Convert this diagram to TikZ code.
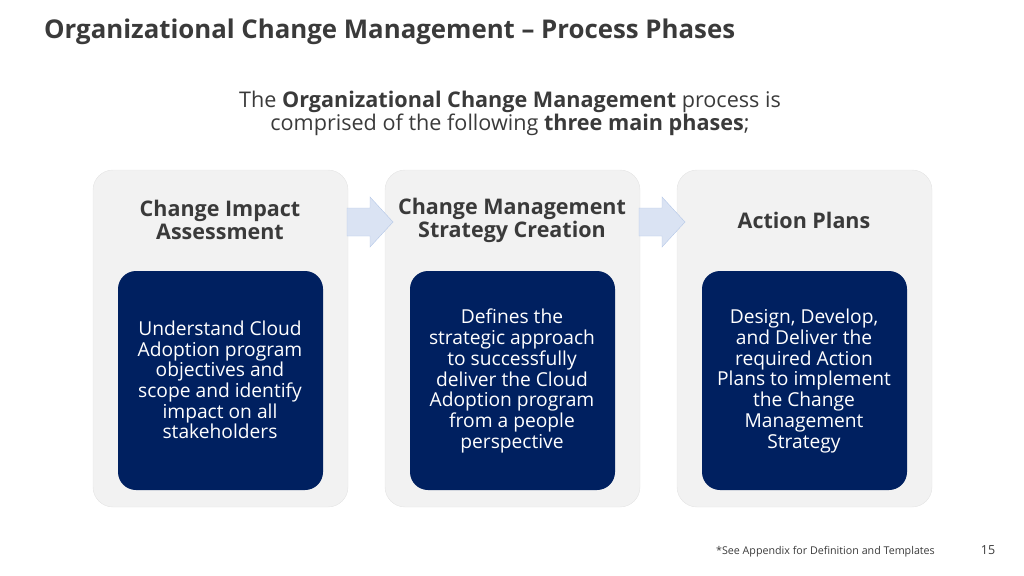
\documentclass[tikz,border=0pt]{standalone}
\usepackage{fontspec}
\setmainfont{Open Sans}
\definecolor{navy}{HTML}{002060}
\definecolor{panel}{HTML}{F2F2F2}
\definecolor{panelline}{HTML}{E4E4E4}
\definecolor{arrowfill}{HTML}{DAE3F3}
\definecolor{arrowline}{HTML}{B4C7E7}
\definecolor{ink}{HTML}{3A3A3A}
\tikzset{
  phase/.style={draw=panelline, fill=panel, rounded corners=20pt, minimum width=255pt, minimum height=337pt, inner sep=0pt},
  detail/.style={fill=navy, rounded corners=18pt, minimum width=205pt, minimum height=219pt, inner sep=0pt},
  detailtext/.style={text=white, align=center, font=\fontsize{19.2}{20.7}\selectfont},
  phasetitle/.style={text=ink, align=center, font=\fontsize{21.5}{23}\selectfont\bfseries},
  flow/.style={draw=arrowline, fill=arrowfill, line join=miter}
}
\begin{document}
\begin{tikzpicture}[x=1pt,y=-1pt]
  \useasboundingbox (0,0) rectangle (1024,575);
  % Titolo
  \node[anchor=west, inner sep=0pt, text=ink, font=\fontsize{25.8}{28}\selectfont\bfseries] (title) at (44,32) {Organizational Change Management -- Process Phases};
  % Introduzione
  \node[text=ink, align=center, font=\fontsize{21.6}{23}\selectfont] (intro) at (510,113)
    {The \textbf{Organizational Change Management} process is\\ comprised of the following \textbf{three main phases};};
  % Pannelli delle fasi
  \node[phase] (impact) at (220.5,338.5) {};
  \node[phase] (strategy) at (512.5,338.5) {};
  \node[phase] (plans) at (804.5,338.5) {};
  % Frecce tra le fasi
  \foreach \x in {347,639}
    \draw[flow] (\x,208) -- ++(23,0) -- ++(0,-11) -- ++(23,25) -- ++(-23,25) -- ++(0,-11) -- ++(-23,0) -- cycle;
  % Titoli delle fasi
  \node[phasetitle] (impactTitle) at (220,220) {Change Impact\\Assessment};
  \node[phasetitle] (strategyTitle) at (512,220.5) {Change Management\\Strategy Creation};
  \node[phasetitle] (plansTitle) at (804,220.5) {Action Plans};
  % Riquadri blu
  \node[detail] (impactBox) at (220.5,380.5) {};
  \node[detail] (strategyBox) at (512.5,380.5) {};
  \node[detail] (plansBox) at (804.5,380.5) {};
  \node[detailtext] (impactText) at (220,380)
    {Understand Cloud\\Adoption program\\objectives and\\scope and identify\\impact on all\\stakeholders};
  \node[detailtext] (strategyText) at (512,381)
    {Defines the\\strategic approach\\to successfully\\deliver the Cloud\\Adoption program\\from a people\\perspective};
  \node[detailtext] (plansText) at (804,381)
    {Design, Develop,\\and Deliver the\\required Action\\Plans to implement\\the Change\\Management\\Strategy};
  % Piede di pagina
  \node[anchor=east, inner sep=0pt, text=ink, font=\fontsize{10.7}{12}\selectfont] (note) at (935,552) {*See Appendix for Definition and Templates};
  \node[text=ink, font=\fontsize{12.5}{14}\selectfont] (page) at (988,550) {15};
\end{tikzpicture}
\end{document}
